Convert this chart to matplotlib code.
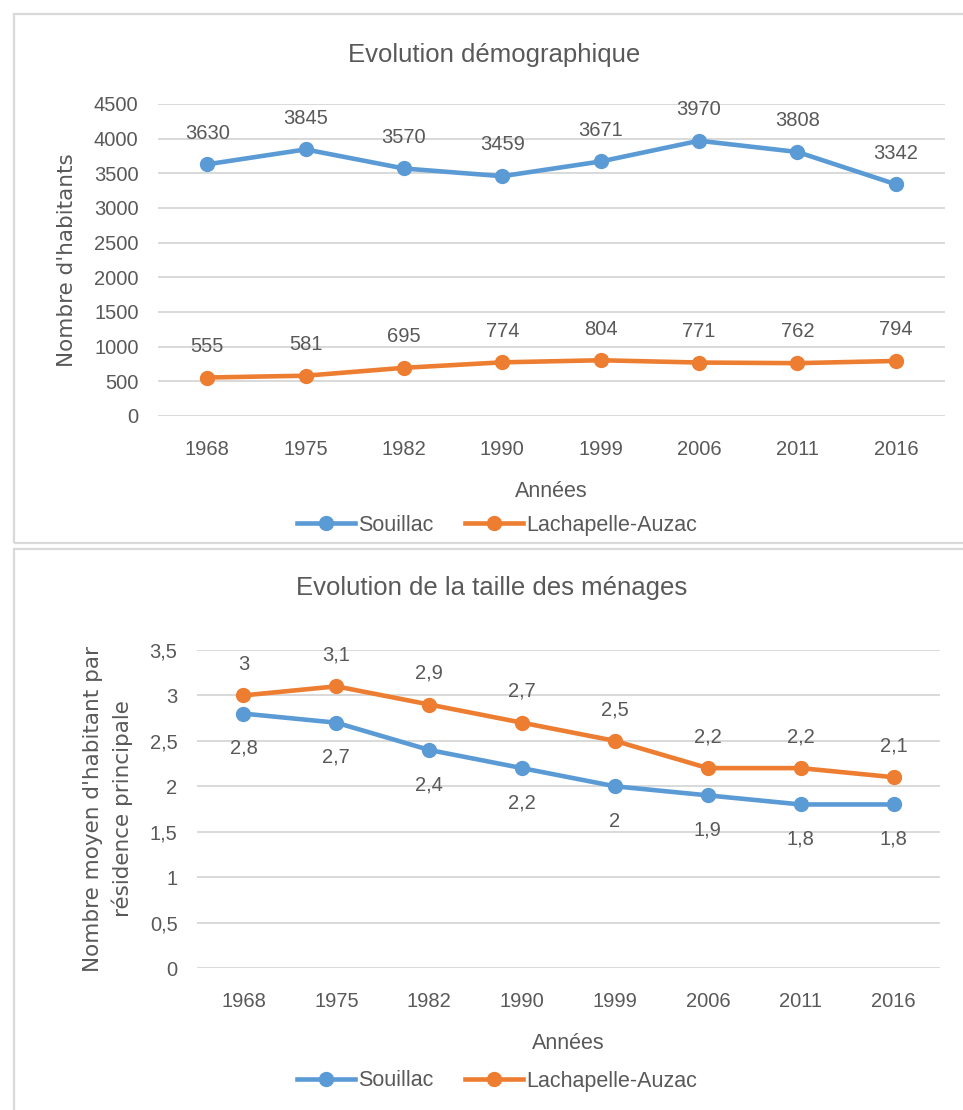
import matplotlib
matplotlib.use("Agg")
import matplotlib.pyplot as plt
from matplotlib.patches import Rectangle
from matplotlib.lines import Line2D

years = ["1968", "1975", "1982", "1990", "1999", "2006", "2011", "2016"]
pop_souillac = [3630, 3845, 3570, 3459, 3671, 3970, 3808, 3342]
pop_lachapelle = [555, 581, 695, 774, 804, 771, 762, 794]
men_souillac = [2.8, 2.7, 2.4, 2.2, 2.0, 1.9, 1.8, 1.8]
men_lachapelle = [3.0, 3.1, 2.9, 2.7, 2.5, 2.2, 2.2, 2.1]
series_names = ["Souillac", "Lachapelle-Auzac"]

BLUE = "#5B9BD5"
ORANGE = "#ED7D31"
GRID = "#D9D9D9"
TXT = "#595959"
FONT = "Liberation Sans"
NUM = 14.5

W, H = 963, 1110
fig = plt.figure(figsize=(W / 100, H / 100), dpi=100)
fig.patch.set_facecolor("white")


def px(x0, y0, x1, y1):
    return [x0 / W, 1 - y1 / H, (x1 - x0) / W, (y1 - y0) / H]


# panel borders
for (x0, y0, x1, y1) in [(13.5, 13.5, 975, 542.5), (13.5, 548.5, 975, 1125)]:
    fig.add_artist(Rectangle((x0 / W, 1 - y1 / H), (x1 - x0) / W, (y1 - y0) / H,
                             transform=fig.transFigure, fill=False,
                             edgecolor="#D9D9D9", lw=1.6, zorder=0))


def fmt_fr(v):
    return ("%g" % v).replace(".", ",")


def draw(ax, s1, s2, ymax, ystep, ylabel, below_first, fmt):
    x = list(range(len(years)))
    ax.set_xlim(-0.5, len(years) - 0.5)
    ax.set_ylim(0, ymax)
    ticks = []
    v = 0
    while v <= ymax + 1e-9:
        ticks.append(v)
        v += ystep
    ax.set_yticks(ticks)
    ax.set_yticklabels([fmt(t) for t in ticks])
    ax.set_xticks(x)
    ax.set_xticklabels(years)
    for t in ticks:
        ax.axhline(t, color=GRID, lw=1.4, zorder=0)
    for sp in ax.spines.values():
        sp.set_visible(False)
    ax.tick_params(length=0, labelsize=NUM, colors=TXT)
    ax.tick_params(axis="y", pad=14)
    ax.tick_params(axis="x", pad=17)
    for lab in ax.get_xticklabels() + ax.get_yticklabels():
        lab.set_fontfamily(FONT)
    ax.plot(x, s1, color=BLUE, lw=3.3, marker="o", ms=10, zorder=3, clip_on=False)
    ax.plot(x, s2, color=ORANGE, lw=3.3, marker="o", ms=10, zorder=3, clip_on=False)
    for xi, v in zip(x, s1):
        dy = -25 if below_first else 22.5
        ax.annotate(fmt(v), (xi, v), xytext=(0, dy), textcoords="offset points",
                    ha="center", va="center", fontsize=NUM, color=TXT, family=FONT)
    for xi, v in zip(x, s2):
        ax.annotate(fmt(v), (xi, v), xytext=(0, 22.5), textcoords="offset points",
                    ha="center", va="center", fontsize=NUM, color=TXT, family=FONT)
    ax.set_xlabel("Années", fontsize=15.5, color=TXT, family=FONT, labelpad=16)
    ax.set_ylabel(ylabel, fontsize=15.5, color=TXT, family="DejaVu Sans",
                  linespacing=1.5)
    ax.set_facecolor("none")


# top chart
ax1 = fig.add_axes(px(158, 104, 945, 416))
draw(ax1, pop_souillac, pop_lachapelle, 4500, 500,
     "Nombre d'habitants", False, lambda v: "%d" % v)
ax1.yaxis.set_label_coords((77 - 158) / 787, 0.5)
fig.text(494 / W, 1 - 55 / H, "Evolution démographique", ha="center", va="center",
         fontsize=18.5, color=TXT, family=FONT)

# bottom chart
ax2 = fig.add_axes(px(197, 650, 940, 968))
draw(ax2, men_souillac, men_lachapelle, 3.5, 0.5,
     "Nombre moyen d'habitant par\nrésidence principale", True, fmt_fr)
ax2.yaxis.set_label_coords((133 - 197) / 743, 0.5)
fig.text(492 / W, 1 - 588 / H, "Evolution de la taille des ménages", ha="center",
         va="center", fontsize=18.5, color=TXT, family=FONT)

# legends
handles = [Line2D([0], [0], color=BLUE, lw=3.3, marker="o", ms=10),
           Line2D([0], [0], color=ORANGE, lw=3.3, marker="o", ms=10)]
for yc in (525, 1081):
    fig.legend(handles, series_names, loc="center", bbox_to_anchor=(497 / W, 1 - yc / H),
               ncol=2, frameon=False, handlelength=2.7, handletextpad=0.15,
               columnspacing=1.45, prop={"family": FONT, "size": 15.5},
               labelcolor=TXT)

fig.savefig("out.png", dpi=100, facecolor="white")
